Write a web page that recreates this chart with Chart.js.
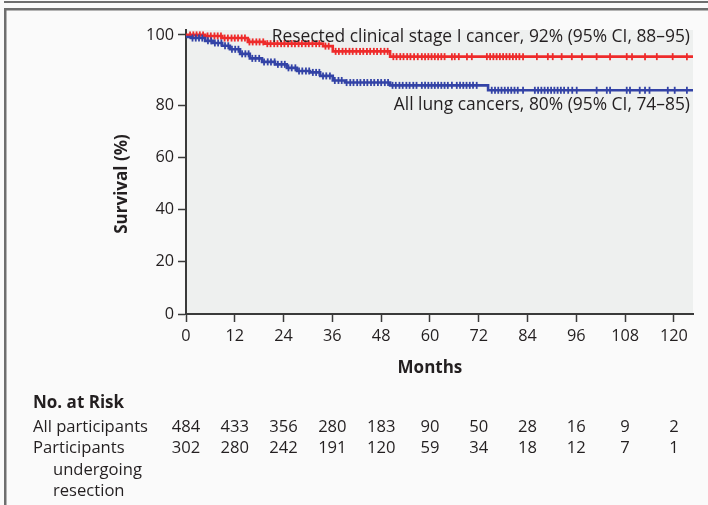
<!DOCTYPE html>
<html>
<head>
<meta charset="utf-8">
<script src="https://cdn.jsdelivr.net/npm/chart.js@4/dist/chart.umd.min.js"></script>
<style>
  html, body { margin: 0; padding: 0; background: #fafafa; }
  #wrap { width: 708px; height: 505px; }
</style>
</head>
<body>
<div id="wrap"><canvas id="km" width="708" height="505"></canvas></div>
<script>
// x axis (months) and y axis (survival %) ticks
const monthTicks = [0, 12, 24, 36, 48, 60, 72, 84, 96, 108, 120];
const survivalTicks = [0, 20, 40, 60, 80, 100];

// Kaplan-Meier steps
const resectedTimes = [0, 4.7, 8.9, 15.2, 19.4, 33.7, 36.1, 50.2, 124.7];
const resectedSurv  = [100, 99.7, 99.1, 98.0, 97.5, 96.8, 95.3, 93.8, 93.8];

const allTimes = [0, 1.2, 4.7, 6.6, 8.9, 10.8, 13.3, 15.7, 18.7, 21.9, 24.8, 27.3, 30.5, 33, 36.1, 39.1, 50.2, 74.3, 124.7];
const allSurv  = [99.4, 99.1, 98.3, 97.7, 96.9, 95.9, 94.6, 93.3, 92.3, 91.6, 90.6, 89.7, 89.3, 88.3, 87.0, 86.4, 85.6, 84.2, 84.2];

// censored observations (tick marks)
const resectedCensor = [1, 1.8, 2.6, 3.4, 4.2, 5.3, 6.1, 7, 7.8, 8.6, 9.5, 10.3, 11.2, 12, 12.8, 13.7, 14.5, 15.6,
  16.4, 17.3, 18.1, 19, 20, 20.8, 21.7, 22.5, 23.4, 24.2, 25.1, 26, 26.8, 27.7, 28.5, 29.4, 30.2, 31.1, 32, 32.8,
  34.3, 35.1, 36.8, 37.6, 38.5, 39.3, 40.2, 41, 41.9, 42.8, 43.6, 44.5, 45.3, 46.2, 47, 47.9, 48.8, 49.6,
  51, 51.8, 52.7, 53.5, 54.4, 55.2, 56.1, 57, 58, 58.8, 59.6, 60.4, 61.2, 62, 62.8, 63.6, 65.4, 66.1, 67.1,
  69.1, 70.3, 74, 74.8, 75.6, 76.4, 77.2, 78, 78.8, 79.6, 80.4, 81.2, 82, 82.9, 86.3, 89, 90.2, 92.4, 94.9,
  97.4, 101, 104.3, 108.4, 109.7, 112.9, 115.8, 119.7, 123.2];
const allCensor = [1.6, 2.4, 3.2, 4, 5.4, 6.2, 7.1, 7.9, 8.7, 9.6, 10.4, 11.3, 12.1, 12.9, 13.8, 14.6, 15.4,
  16.3, 17.1, 18, 19.2, 20.1, 20.9, 21.8, 22.6, 23.5, 24.3, 25.2, 26, 26.9, 27.8, 28.6, 29.5, 30.3, 31.2, 32,
  32.8, 33.7, 34.5, 35.4, 36.6, 37.5, 38.3, 39.5, 40.4, 41.2, 42.1, 42.9, 43.8, 44.6, 45.5, 46.3, 47.2, 48,
  48.9, 49.7, 50.8, 51.6, 52.5, 53.3, 54.2, 55, 55.9, 56.7, 58, 58.8, 59.6, 60.4, 61.2, 62, 62.8, 63.6, 64.4,
  65.4, 66.6, 67.4, 68.2, 69, 69.8, 70.6, 71.5, 75.2, 76, 76.8, 77.6, 78.4, 79.2, 80, 80.8, 81.6, 82.9, 85.8,
  86.6, 87.4, 88.2, 89, 89.8, 90.6, 91.4, 92.2, 93, 94, 95, 96.1, 101, 103.5, 104.3, 108.4, 109.2, 111.6,
  112.9, 114, 118.5, 120.2, 123.2];

// number at risk
const riskAll = [484, 433, 356, 280, 183, 90, 50, 28, 16, 9, 2];
const riskResected = [302, 280, 242, 191, 120, 59, 34, 18, 12, 7, 1];

const FONT = '"Open Sans", sans-serif';
const INK = '#231f20';
const AXIS = '#3a3a3a';
const RED = '#ee2b2b';
const BLUE = '#3343a6';

// the y axis is stretched above 80
const BREAK_AT = 80;
const LOWER_SHARE = 209 / 284;

class BrokenScale extends Chart.LinearScale {
    getPixelForValue(value) {
        if (value === null || value === undefined) return NaN;
        let d;
        if (value <= BREAK_AT) d = (value - this.min) / (BREAK_AT - this.min) * LOWER_SHARE;
        else d = LOWER_SHARE + (value - BREAK_AT) / (this.max - BREAK_AT) * (1 - LOWER_SHARE);
        return this.getPixelForDecimal(d);
    }
    getValueForPixel(pixel) {
        const d = this.getDecimalForPixel(pixel);
        if (d <= LOWER_SHARE) return this.min + d / LOWER_SHARE * (BREAK_AT - this.min);
        return BREAK_AT + (d - LOWER_SHARE) / (1 - LOWER_SHARE) * (this.max - BREAK_AT);
    }
}
BrokenScale.id = 'broken';
Chart.register(BrokenScale);

function survAt(times, surv, t) {
    let v = surv[0];
    for (let i = 0; i < times.length; i++) {
        if (times[i] <= t) v = surv[i];
    }
    return v;
}

const paper = {
    id: 'paper',
    beforeDraw(chart) {
        const c = chart.ctx;
        const a = chart.chartArea;
        c.save();
        c.fillStyle = '#fafafa';
        c.fillRect(0, 0, chart.width, chart.height);
        c.fillStyle = '#6e6e6e';
        c.fillRect(4, 1, chart.width - 4, 2);
        c.fillRect(4, 8, chart.width - 4, 2.5);
        c.fillRect(4, 8, 2.5, chart.height - 8);
        c.fillStyle = '#eef0ef';
        c.fillRect(a.left, a.top, a.right - a.left, a.bottom - a.top);
        c.restore();
    },
    afterDraw(chart) {
        const c = chart.ctx;
        const x = chart.scales.x;
        c.save();
        c.fillStyle = INK;

        c.font = '17.4px ' + FONT;
        c.textAlign = 'right';
        c.textBaseline = 'alphabetic';
        c.fillText('Resected clinical stage I cancer, 92% (95% CI, 88\u201395)', 690, 41.5);
        c.fillText('All lung cancers, 80% (95% CI, 74\u201385)', 690, 110);

        c.font = 'bold 17px ' + FONT;
        c.textAlign = 'center';
        c.fillText('Months', x.getPixelForValue(60), 373);

        c.save();
        c.translate(127, 184);
        c.rotate(-Math.PI / 2);
        c.fillText('Survival (%)', 0, 0);
        c.restore();

        c.textAlign = 'left';
        c.fillText('No. at Risk', 33, 408);

        c.font = '16.6px ' + FONT;
        c.fillText('All participants', 33, 431.5);
        c.fillText('Participants', 33, 453);
        c.fillText('undergoing', 53, 474.5);
        c.fillText('resection', 53, 495.5);

        c.textAlign = 'center';
        monthTicks.forEach((m, i) => {
            const px = x.getPixelForValue(m);
            c.fillText(String(riskAll[i]), px, 431.5);
            c.fillText(String(riskResected[i]), px, 453);
        });
        c.restore();
    }
};

const censorStyle = {
    showLine: false,
    pointStyle: 'line',
    rotation: 90,
    pointRadius: 3.5,
    pointBorderWidth: 1.8,
    pointHoverRadius: 3.5
};

new Chart(document.getElementById('km').getContext('2d'), {
    type: 'line',
    data: {
        datasets: [
            {
                label: 'All lung cancers',
                data: allTimes.map((t, i) => ({ x: t, y: allSurv[i] })),
                stepped: 'before',
                borderColor: BLUE,
                borderWidth: 2.6,
                pointRadius: 0,
                fill: false
            },
            Object.assign({
                label: 'All lung cancers censored',
                data: allCensor.map(t => ({ x: t, y: survAt(allTimes, allSurv, t) })),
                borderColor: BLUE,
                pointBorderColor: BLUE
            }, censorStyle),
            {
                label: 'Resected clinical stage I cancer',
                data: resectedTimes.map((t, i) => ({ x: t, y: resectedSurv[i] })),
                stepped: 'before',
                borderColor: RED,
                borderWidth: 2.6,
                pointRadius: 0,
                fill: false
            },
            Object.assign({
                label: 'Resected censored',
                data: resectedCensor.map(t => ({ x: t, y: survAt(resectedTimes, resectedSurv, t) })),
                borderColor: RED,
                pointBorderColor: RED
            }, censorStyle)
        ]
    },
    options: {
        responsive: false,
        animation: false,
        devicePixelRatio: 1,
        layout: { padding: { left: 0, top: 30, right: 15, bottom: 151 } },
        plugins: {
            legend: { display: false },
            tooltip: { enabled: false }
        },
        scales: {
            x: {
                type: 'linear',
                min: 0,
                max: 124.7,
                afterBuildTicks: s => { s.ticks = monthTicks.map(v => ({ value: v })); },
                afterFit: s => { s.height = 40; },
                ticks: { font: { family: FONT, size: 16.3 }, color: INK, padding: 5, maxRotation: 0, autoSkip: false },
                grid: { display: true, drawOnChartArea: false, drawTicks: true, tickLength: 8, tickWidth: 1.5, tickColor: AXIS },
                border: { display: true, color: AXIS, width: 2 }
            },
            y: {
                type: 'broken',
                min: 0,
                max: 101.4,
                afterBuildTicks: s => { s.ticks = survivalTicks.map(v => ({ value: v })); },
                afterFit: s => { s.width = 186; },
                ticks: { font: { family: FONT, size: 16.3 }, color: INK, padding: 4, autoSkip: false },
                grid: { display: true, drawOnChartArea: false, drawTicks: true, tickLength: 8, tickWidth: 1.5, tickColor: AXIS },
                border: { display: true, color: AXIS, width: 2 }
            }
        }
    },
    plugins: [paper]
});
</script>
</body>
</html>
